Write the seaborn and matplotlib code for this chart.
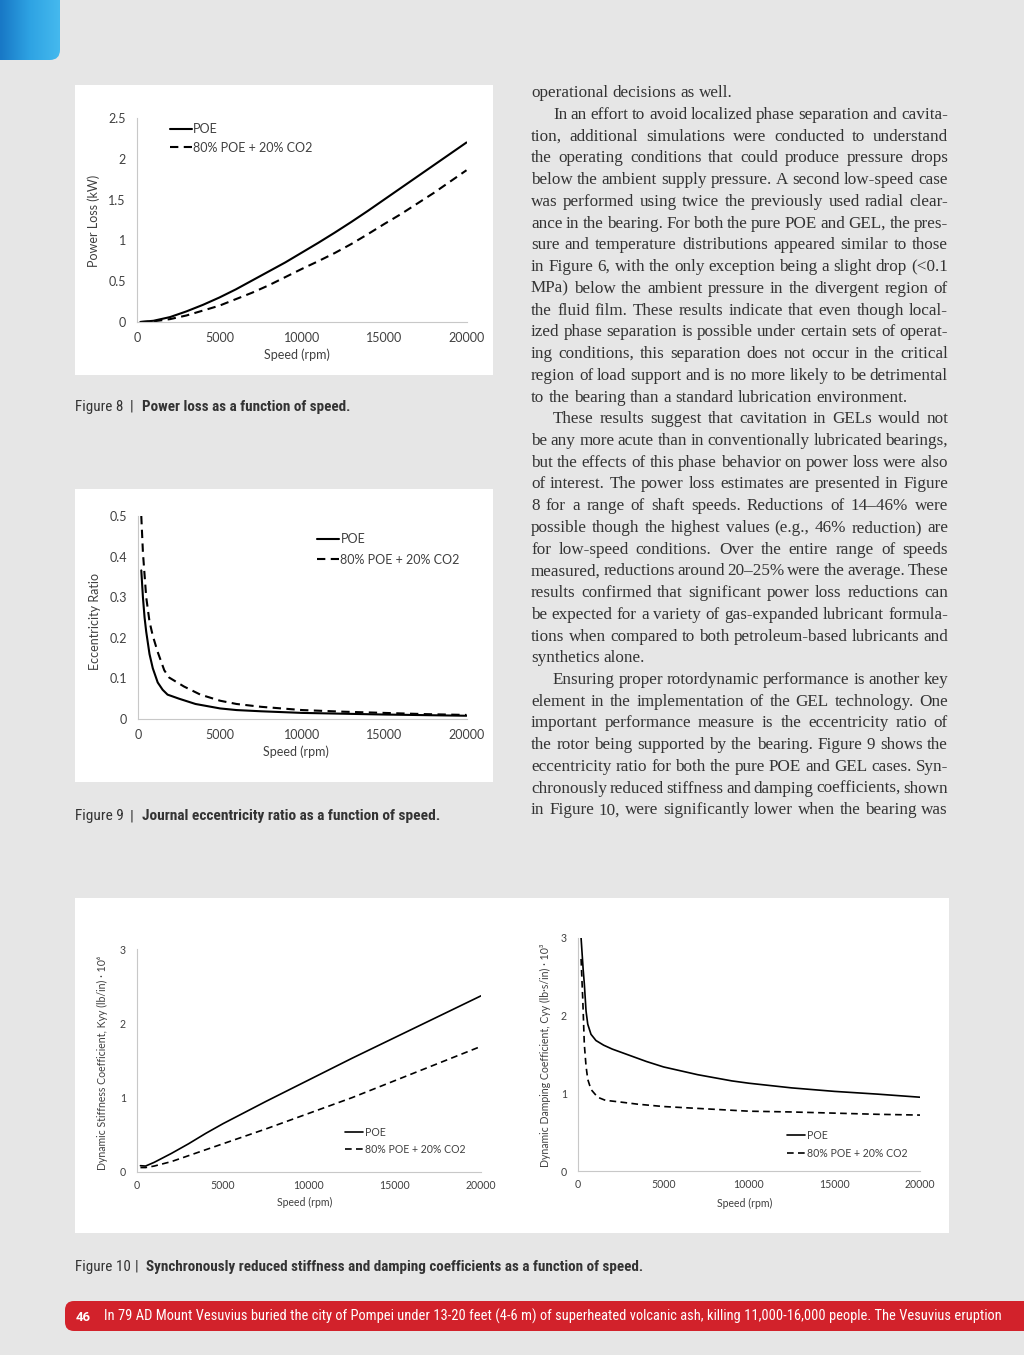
import numpy as np
import pandas as pd
import matplotlib
matplotlib.use("Agg")
import matplotlib.pyplot as plt
from matplotlib.patches import Rectangle, FancyBboxPatch
from matplotlib.lines import Line2D
from matplotlib.ticker import FuncFormatter
from matplotlib.transforms import IdentityTransform
from matplotlib.colors import LinearSegmentedColormap
from matplotlib import font_manager as fm
import seaborn as sns

W, H = 1024, 1355

# ----------------------------- #
# Data
# ----------------------------- #
fluids = ["POE", "80% POE + 20% CO2"]

# Figure 8 - power loss (kW)
pl_speed = [200, 1000, 2000, 3000, 4000, 5000, 6000, 7000, 8000, 9000, 10000,
            11000, 12000, 13000, 14000, 15000, 16000, 17000, 18000, 19000, 20000]
pl_poe = [0.0, 0.015, 0.06, 0.13, 0.21, 0.30, 0.40, 0.51, 0.62, 0.73, 0.85,
          0.97, 1.095, 1.225, 1.36, 1.50, 1.64, 1.78, 1.92, 2.06, 2.20]
pl_gel = [0.0, 0.008, 0.035, 0.08, 0.14, 0.20, 0.28, 0.36, 0.45, 0.55, 0.65,
          0.745, 0.845, 0.955, 1.075, 1.20, 1.32, 1.45, 1.58, 1.72, 1.86]

# Figure 9 - eccentricity ratio
ecc_speed_poe = [200, 300, 400, 500, 700, 900, 1200, 1500, 1800, 2500, 3500, 5000,
                 6000, 7500, 10000, 12500, 15000, 17500, 20000]
ecc_poe = [0.366, 0.30, 0.25, 0.215, 0.16, 0.125, 0.09, 0.072, 0.06, 0.05, 0.037, 0.026,
           0.022, 0.019, 0.015, 0.013, 0.011, 0.0095, 0.008]
ecc_speed_gel = [200, 300, 500, 700, 900, 1200, 1600, 1900, 2800, 3800, 5000, 6000,
                 7500, 10000, 12500, 15000, 17500, 20000]
ecc_gel = [0.50, 0.41, 0.30, 0.24, 0.205, 0.165, 0.12, 0.102, 0.08, 0.06, 0.045, 0.037,
           0.03, 0.022, 0.018, 0.015, 0.012, 0.010]

# Figure 10 (left) - stiffness Kyy (lb/in) x 10^6
k_speed = [200, 500, 1000, 2000, 3000, 4000, 5000, 7500, 10000, 12500, 15000, 17500, 20000]
k_poe = [0.085, 0.08, 0.13, 0.25, 0.38, 0.52, 0.65, 0.95, 1.24, 1.53, 1.81, 2.09, 2.37]
k_gel = [0.06, 0.06, 0.08, 0.14, 0.22, 0.30, 0.38, 0.58, 0.79, 1.00, 1.23, 1.46, 1.69]

# Figure 10 (right) - damping Cyy (lb.s/in) x 10^3
c_speed_poe = [180, 300, 370, 470, 570, 760, 1050, 1500, 2000, 2500, 3000, 4000, 5000,
               6000, 7000, 8000, 9000, 10000, 12500, 15000, 17500, 20000]
c_poe = [3.0, 2.6, 2.41, 2.06, 1.89, 1.76, 1.68, 1.62, 1.57, 1.53, 1.49, 1.41, 1.34,
         1.29, 1.24, 1.20, 1.16, 1.13, 1.07, 1.025, 0.99, 0.95]
c_speed_gel = [180, 280, 370, 470, 570, 760, 1150, 1600, 2400, 3500, 5000, 7500, 10000,
               12500, 15000, 17500, 20000]
c_gel = [2.73, 2.2, 1.63, 1.35, 1.18, 1.05, 0.95, 0.91, 0.89, 0.86, 0.83, 0.80, 0.77,
         0.76, 0.745, 0.73, 0.72]

x_ticks = [0, 5000, 10000, 15000, 20000]

body_lines = [
    "operational decisions as well.",
    "In an effort to avoid localized phase separation and cavita-",
    "tion, additional simulations were conducted to understand",
    "the operating conditions that could produce pressure drops",
    "below the ambient supply pressure. A second low-speed case",
    "was performed using twice the previously used radial clear-",
    "ance in the bearing. For both the pure POE and GEL, the pres-",
    "sure and temperature distributions appeared similar to those",
    "in Figure 6, with the only exception being a slight drop (<0.1",
    "MPa) below the ambient pressure in the divergent region of",
    "the fluid film. These results indicate that even though local-",
    "ized phase separation is possible under certain sets of operat-",
    "ing conditions, this separation does not occur in the critical",
    "region of load support and is no more likely to be detrimental",
    "to the bearing than a standard lubrication environment.",
    "These results suggest that cavitation in GELs would not",
    "be any more acute than in conventionally lubricated bearings,",
    "but the effects of this phase behavior on power loss were also",
    "of interest. The power loss estimates are presented in Figure",
    "8 for a range of shaft speeds. Reductions of 14\u201346% were",
    "possible though the highest values (e.g., 46% reduction) are",
    "for low-speed conditions. Over the entire range of speeds",
    "measured, reductions around 20\u201325% were the average. These",
    "results confirmed that significant power loss reductions can",
    "be expected for a variety of gas-expanded lubricant formula-",
    "tions when compared to both petroleum-based lubricants and",
    "synthetics alone.",
    "Ensuring proper rotordynamic performance is another key",
    "element in the implementation of the GEL technology. One",
    "important performance measure is the eccentricity ratio of",
    "the rotor being supported by the bearing. Figure 9 shows the",
    "eccentricity ratio for both the pure POE and GEL cases. Syn-",
    "chronously reduced stiffness and damping coefficients, shown",
    "in Figure 10, were significantly lower when the bearing was",
]
indent_lines = {1, 15, 27}
last_lines = {0, 14, 26}

footer_text = ("In 79 AD Mount Vesuvius buried the city of Pompei under 13-20 feet (4-6 m) of "
               "superheated volcanic ash, killing 11,000-16,000 people. The Vesuvius eruption")

# ----------------------------- #
# Page setup
# ----------------------------- #
sns.set_style("white")
plt.rcParams["font.family"] = ["Lato", "DejaVu Sans"]

BG = "#e6e6e6"
fig = plt.figure(figsize=(W / 100, H / 100), dpi=100, facecolor=BG)
renderer = fig.canvas.get_renderer()

names = {f.name for f in fm.fontManager.ttflist}
if "Liberation Sans Narrow" in names:
    COND = dict(family=["Liberation Sans Narrow", "DejaVu Sans"])
elif "Roboto Condensed" in names:
    COND = dict(family=["Roboto Condensed", "DejaVu Sans"])
else:
    COND = dict(family=["Roboto", "DejaVu Sans"])


def fxy(x, y):
    return x / W, 1 - y / H


def text_width(s, **kw):
    t = fig.text(0, 0, s, **kw)
    w = t.get_window_extent(renderer).width
    t.remove()
    return w


def fit_size(s, target, **kw):
    size = 10.0
    for _ in range(3):
        size = size * target / text_width(s, fontsize=size, **kw)
    return size


def box(x0, y0, x1, y1):
    fig.patches.append(Rectangle(fxy(x0, y1), (x1 - x0) / W, (y1 - y0) / H,
                                 transform=fig.transFigure, facecolor="white",
                                 edgecolor="none", zorder=-5))


# blue tab, top-left
ax_tab = fig.add_axes([0, 1 - 60 / H, 60 / W, 60 / H])
ax_tab.axis("off")
grad = np.linspace(0, 1, 64).reshape(1, -1)
cmap = LinearSegmentedColormap.from_list("tab", ["#1878c6", "#2ea3e3", "#45b9ee"])
im = ax_tab.imshow(grad, extent=[0, 1, 0, 1], aspect="auto", cmap=cmap)
clip = FancyBboxPatch((-0.6, 0), 1.6, 1.6, boxstyle="round,pad=0,rounding_size=0.17",
                      transform=ax_tab.transAxes)
im.set_clip_path(clip)

# white chart boxes
box(75, 85, 493, 375)
box(75, 489, 493, 782)
box(75, 898, 949, 1233)

TXT = "#404040"


def draw_chart(rect, sp_a, v_a, sp_b, v_b, ylim, yticks, ylabel, fs, lw,
               ylab_xy, xlab_xy, leg_xy, leg_space, xpad):
    x0, y0, x1, y1 = rect
    ax = fig.add_axes([x0 / W, 1 - y1 / H, (x1 - x0) / W, (y1 - y0) / H])
    ax.set_facecolor("white")
    df = pd.DataFrame({
        "Speed": list(sp_a) + list(sp_b),
        "Value": list(v_a) + list(v_b),
        "Fluid": [fluids[0]] * len(sp_a) + [fluids[1]] * len(sp_b),
    })
    sns.lineplot(data=df, x="Speed", y="Value", style="Fluid", style_order=fluids,
                 dashes={fluids[0]: "", fluids[1]: (4, 2.6)}, color="black",
                 linewidth=lw, estimator=None, legend=False, ax=ax)
    ax.set_xlim(0, 20000)
    ax.set_ylim(*ylim)
    ax.set_xticks(x_ticks)
    ax.set_yticks(yticks)
    ax.yaxis.set_major_formatter(FuncFormatter(lambda v, p: f"{v:g}"))
    ax.xaxis.set_major_formatter(FuncFormatter(lambda v, p: f"{v:g}"))
    for s in ["top", "right"]:
        ax.spines[s].set_visible(False)
    for s in ["left", "bottom"]:
        ax.spines[s].set_color("#c8c8c8")
        ax.spines[s].set_linewidth(0.8)
    ax.tick_params(axis="both", colors="#c8c8c8", labelcolor=TXT, labelsize=fs,
                   length=3, width=0.8)
    ax.tick_params(axis="y", direction="out", pad=5)
    ax.tick_params(axis="x", direction="inout", length=4, pad=xpad)
    ax.set_xlabel("Speed (rpm)", fontsize=fs, color=TXT)
    ax.set_ylabel(ylabel, fontsize=fs, color=TXT)
    ax.yaxis.set_label_coords((ylab_xy[0] - x0) / (x1 - x0), (y1 - ylab_xy[1]) / (y1 - y0))
    ax.xaxis.set_label_coords((xlab_xy[0] - x0) / (x1 - x0), (y1 - xlab_xy[1]) / (y1 - y0))
    ax.xaxis.label.set_va("center")
    ax.yaxis.label.set_va("center")
    handles = [Line2D([], [], color="black", lw=lw),
               Line2D([], [], color="black", lw=lw, dashes=(4, 2.6))]
    leg = ax.legend(handles, fluids, loc="upper left", bbox_to_anchor=fxy(*leg_xy),
                    bbox_transform=fig.transFigure, frameon=False, fontsize=fs,
                    handlelength=1.75, handletextpad=0.12, labelspacing=leg_space,
                    borderpad=0, borderaxespad=0)
    for t in leg.get_texts():
        t.set_color(TXT)
    return ax


# Figure 8
draw_chart((137, 118, 466.5, 322), pl_speed, pl_poe, pl_speed, pl_gel,
           (0, 2.5), [0, 0.5, 1, 1.5, 2, 2.5], "Power Loss (kW)", 9, 1.5,
           (94, 221), (297, 355), (170, 123), 0.54, 5)

# Figure 9
draw_chart((138, 516, 466.5, 719), ecc_speed_poe, ecc_poe, ecc_speed_gel, ecc_gel,
           (0, 0.5), [0, 0.1, 0.2, 0.3, 0.4, 0.5], "Eccentricity Ratio", 9, 1.5,
           (95, 621), (296, 752), (317, 533), 0.69, 5)

# Figure 10 left
draw_chart((137, 949, 481, 1172), k_speed, k_poe, k_speed, k_gel,
           (0, 3), [0, 1, 2, 3], "Dynamic Stiffness Coefficient, Kyy (lb/in) \u00b7 10\u2076", 7.6, 1.2,
           (102, 1063), (305, 1202), (345, 1127), 0.54, 3.5)

# Figure 10 right
draw_chart((578, 938, 920, 1171), c_speed_poe, c_poe, c_speed_gel, c_gel,
           (0, 3), [0, 1, 2, 3], "Dynamic Damping Coefficient, Cyy (lb\u00b7s/in) \u00b7 10\u00b3", 7.6, 1.2,
           (545, 1055), (745, 1203), (787, 1130), 0.64, 3.5)

# ----------------------------- #
# Captions
# ----------------------------- #
CAP = "#333333"


def caption(num, title, baseline, x_bar, x_title, x_end):
    size = fit_size(title, x_end - x_title, fontweight="bold", **COND)
    fig.text(*fxy(75, baseline), num, fontsize=size, color=CAP, va="baseline", **COND)
    fig.text(*fxy(x_bar, baseline), "|", fontsize=size, color=CAP, va="baseline",
             ha="center", **COND)
    fig.text(*fxy(x_title, baseline), title, fontsize=size, color=CAP, va="baseline",
             fontweight="bold", **COND)


caption("Figure 8", "Power loss as a function of speed.", 410.5, 132, 142, 350)
caption("Figure 9", "Journal eccentricity ratio as a function of speed.", 820, 132, 142, 440)
caption("Figure 10", "Synchronously reduced stiffness and damping coefficients as a function of speed.",
        1271, 137, 146, 645)

# ----------------------------- #
# Body text (justified column)
# ----------------------------- #
BODY = dict(family=["Liberation Serif", "DejaVu Serif"], color="#333333")
body_size = fit_size("to the bearing than a standard lubrication environment.", 376, **BODY)
space_w = text_width("a a", fontsize=body_size, **BODY) - text_width("aa", fontsize=body_size, **BODY)
col_left, col_right = 531, 948
for i, line in enumerate(body_lines):
    yb = 97.3 + i * 21.73
    xs = col_left + (22 if i in indent_lines else 0)
    words = line.split(" ")
    widths = [text_width(w, fontsize=body_size, **BODY) for w in words]
    if i in last_lines or len(words) < 2:
        gap = space_w
    else:
        gap = (col_right - xs - sum(widths)) / (len(words) - 1)
    x = xs
    for w, ww in zip(words, widths):
        fig.text(*fxy(x, yb), w, fontsize=body_size, va="baseline", ha="left", **BODY)
        x += ww + gap

# ----------------------------- #
# Footer band
# ----------------------------- #
band = FancyBboxPatch((65, H - 1331), 1000, 30, boxstyle="round,pad=0,rounding_size=9",
                      transform=IdentityTransform(), facecolor="#d2222b", edgecolor="none")
fig.patches.append(band)
fig.text(*fxy(76, 1321), "46", fontsize=9.5, fontweight="bold", color="white",
         va="baseline", family=["Roboto", "DejaVu Sans"])
fsize = fit_size(footer_text, 1002 - 104, **COND)
fig.text(*fxy(104, 1321), footer_text, fontsize=fsize, color="white", va="baseline", **COND)

fig.savefig("out.png", dpi=100, facecolor=BG)
